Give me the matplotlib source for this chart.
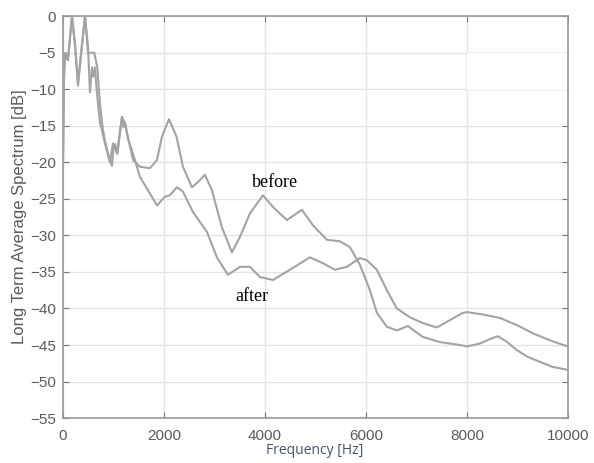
import matplotlib
matplotlib.use('Agg')
import matplotlib.pyplot as plt
from matplotlib.patches import Rectangle

# Long term average spectrum
freq_before = [0, 20, 40, 99, 178, 238, 297, 376, 436, 495, 574, 620, 680, 733, 790,
               830, 900, 970, 1000, 1030, 1080, 1170, 1200, 1230, 1290, 1390, 1525,
               1720, 1861, 1960, 2100, 2250, 2376, 2554, 2673, 2812, 2950, 3148, 3346,
               3505, 3703, 3960, 4158, 4435, 4732, 4950, 5227, 5485, 5683, 5880, 6079,
               6218, 6415, 6613, 6831, 7128, 7465, 7861, 8000, 8257, 8450, 8613, 8800,
               8989, 9200, 9445, 9700, 10000]
spec_before = [-21, -8, -5, -6, 0, -3.7, -9.2, -4, 0, -5, -5, -5, -7, -12, -15.5,
               -17, -19, -20.5, -18, -17.5, -18.8, -13.8, -15.2, -14.5, -16.7, -19.7, -20.6,
               -20.8, -19.7, -16.5, -14.1, -16.5, -20.6, -23.4, -22.7, -21.7, -23.8, -28.9, -32.3,
               -30.2, -27, -24.5, -26.1, -27.9, -26.5, -28.6, -30.6, -30.8, -31.6, -34, -37.5,
               -40.6, -42.5, -43, -42.4, -43.9, -44.6, -45, -45.2, -44.8, -44.2, -43.8, -44.6,
               -45.7, -46.6, -47.3, -48, -48.4]

freq_after = [0, 20, 40, 99, 178, 238, 297, 376, 436, 495, 535, 574, 600, 634, 673,
              733, 772, 832, 930, 990, 1069, 1168, 1228, 1287, 1426, 1525, 1683,
              1861, 2020, 2119, 2257, 2376, 2574, 2851, 3049, 3267, 3505, 3703, 3901,
              4158, 4495, 4891, 5148, 5386, 5623, 5880, 6020, 6218, 6415, 6613, 6871,
              7128, 7405, 7663, 7920, 8000, 8300, 8653, 9000, 9306, 9700, 10000]
spec_after = [-21, -9, -5.5, -6, 0, -4, -9.5, -4, 0, -4, -10.4, -7, -8.3, -7, -10.5,
              -14.6, -15.6, -17.4, -20, -17.4, -18.8, -13.8, -14.7, -16.7, -19.7, -22, -23.8,
              -25.9, -24.7, -24.5, -23.4, -24, -26.8, -29.5, -33, -35.4, -34.3, -34.3, -35.7,
              -36.1, -34.7, -33, -33.8, -34.7, -34.3, -33.1, -33.4, -34.7, -37.5, -40, -41.2,
              -42, -42.6, -41.6, -40.6, -40.5, -40.8, -41.3, -42.3, -43.4, -44.5, -45.2]

y_ticks = list(range(0, -60, -5))
x_ticks = [0, 2000, 4000, 6000, 8000, 10000]

fig = plt.figure(figsize=(5.94, 4.63), dpi=100)
ax = fig.add_axes([0.106, 0.097, 0.850, 0.868])

ax.plot(freq_before, spec_before, color='#a3a3a3', lw=1.5, zorder=3)
ax.plot(freq_after, spec_after, color='#a3a3a3', lw=1.5, zorder=3)

ax.set_xlim(0, 10000)
ax.set_ylim(-55, 0)
ax.set_xticks(x_ticks)
ax.set_yticks(y_ticks)
ax.grid(True, color='#e4e4e4', lw=1.0, zorder=0)
ax.tick_params(direction='in', top=True, right=True, length=4, color='#777777',
               labelsize=11, labelcolor='#5a5a5a')
ax.tick_params(axis='x', pad=8)
ax.tick_params(axis='y', pad=5)
for lab in ax.get_xticklabels() + ax.get_yticklabels():
    lab.set_family('Liberation Sans')
for s in ax.spines.values():
    s.set_color('#999999')
    s.set_linewidth(1.2)

# white patch over the top right corner, as in the scan
ax.add_patch(Rectangle((7980, -10.1), 2020, 5.2, facecolor='white',
                       edgecolor='#eeeeee', lw=0.8, zorder=2))

ax.set_ylabel('Long Term Average Spectrum [dB]', family='Liberation Sans',
              fontsize=12, color='#5a5a5a', labelpad=2)
fig.text(0.53, 0.010, 'Frequency [Hz]', family='Open Sans', fontsize=10,
         color='#44546a', ha='center', va='bottom')

ax.text(4200, -22.7, 'before', family='Liberation Serif', fontsize=13,
        color='black', ha='center', va='center')
ax.text(3740, -38.3, 'after', family='Liberation Serif', fontsize=13,
        color='black', ha='center', va='center')

fig.savefig('out.png', dpi=100)
